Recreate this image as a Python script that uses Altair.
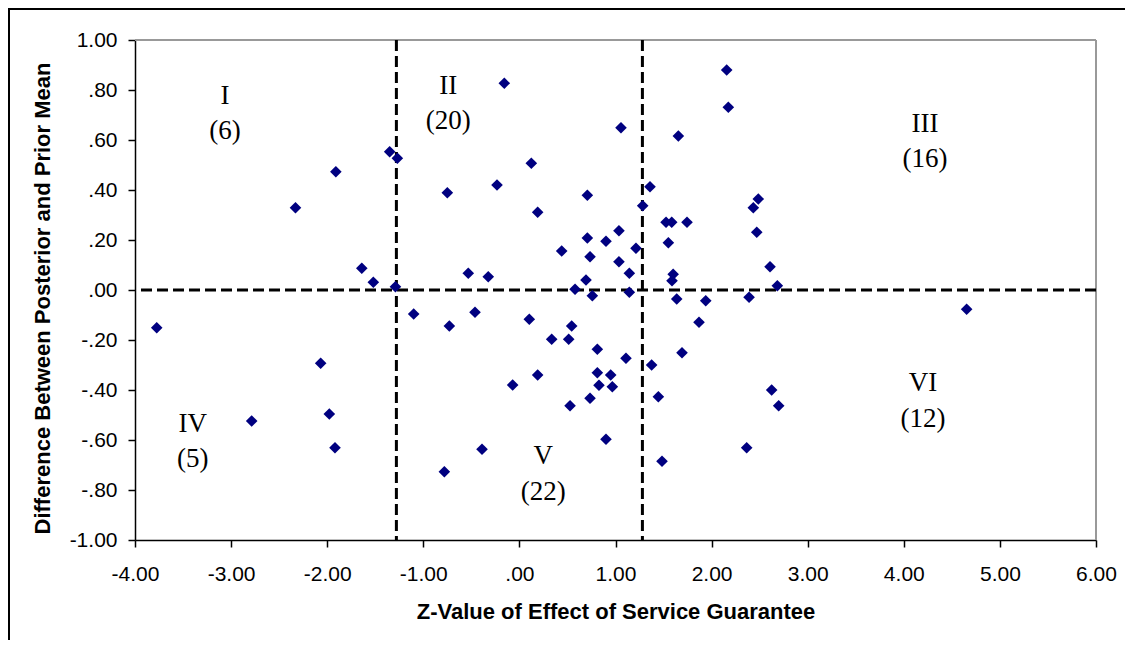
import altair as alt
import pandas as pd

# Z-value of effect of service guarantee (x) and difference between posterior and prior mean (y)
z_value = [
    -2.33, -1.91, -1.35, -1.64, -1.52, -1.29,
    -1.27, -0.75, -0.157, -0.233, 0.124, 0.19, 0.707, 1.057, 0.707, 0.901,
    1.036, 1.213, 0.44, 0.735, 1.036, 1.144, -0.532, -0.324, 0.693, 0.579,
    1.283, 1.359, 1.654, 2.157, 2.174, 2.434, 2.486, 1.526, 1.585, 1.744,
    1.55, 2.47, 2.608, 2.684, 1.60, 1.588,
    -3.774, -2.786, -2.068, -1.978, -1.919,
    -1.10, -0.729, -0.462, 0.103, 0.544, 0.336, 0.513, 0.811, 1.109, 0.19,
    0.811, 0.95, -0.07, 0.828, 0.967, 0.735, 0.527, 0.901, -0.389, -0.781,
    0.759, 1.144,
    1.637, 1.939, 2.39, 1.869, 1.376, 1.692, 1.446, 1.484, 2.365, 4.654,
    2.625, 2.698,
]
diff_mean = [
    0.329, 0.473, 0.553, 0.087, 0.031, 0.013,
    0.527, 0.389, 0.827, 0.42, 0.507, 0.311, 0.379, 0.649, 0.208, 0.195,
    0.237, 0.167, 0.156, 0.133, 0.113, 0.067, 0.067, 0.053, 0.04, 0.003,
    0.337, 0.413, 0.616, 0.88, 0.731, 0.329, 0.364, 0.271, 0.271, 0.271,
    0.189, 0.231, 0.093, 0.017, 0.063, 0.037,
    -0.151, -0.524, -0.293, -0.496, -0.631,
    -0.096, -0.144, -0.089, -0.117, -0.144, -0.197, -0.197, -0.237, -0.273, -0.34,
    -0.331, -0.34, -0.38, -0.381, -0.387, -0.433, -0.463, -0.597, -0.637, -0.727,
    -0.023, -0.009,
    -0.036, -0.043, -0.029, -0.129, -0.30, -0.251, -0.427, -0.685, -0.631, -0.077,
    -0.40, -0.463,
]

# cutoffs
z_cutoffs = [-1.28, 1.28]
y_cutoff = [0.0]

# region labels
region_names = ["I", "II", "III", "IV", "V", "VI"]
region_counts = ["(6)", "(20)", "(16)", "(5)", "(22)", "(12)"]
region_x = [-3.063, -0.740, 4.221, -3.40, 0.249, 4.20]
region_name_y = [0.744, 0.784, 0.633, -0.569, -0.696, -0.403]
region_count_y = [0.604, 0.644, 0.492, -0.708, -0.84, -0.548]

x_ticks = [-4, -3, -2, -1, 0, 1, 2, 3, 4, 5, 6]
y_ticks = [-1.0, -0.8, -0.6, -0.4, -0.2, 0.0, 0.2, 0.4, 0.6, 0.8, 1.0]

W, H = 961, 500

pts = pd.DataFrame({"z": z_value, "d": diff_mean})
vcut = pd.DataFrame({"c": z_cutoffs})
hcut = pd.DataFrame({"c": y_cutoff})
names = pd.DataFrame({"x": region_x, "y": region_name_y, "t": region_names})
counts = pd.DataFrame({"x": region_x, "y": region_count_y, "t": region_counts})

label_expr = (
    "(datum.value < 0 ? '-' : '') + "
    "(abs(datum.value) < 1 ? substring(format(abs(datum.value), '.2f'), 1) : "
    "format(abs(datum.value), '.2f'))"
)

xscale = alt.Scale(domain=[-4, 6], nice=False, zero=False)
yscale = alt.Scale(domain=[-1, 1], nice=False, zero=False)

SANS = "Liberation Sans"
SERIF = "Liberation Serif"

x_axis = alt.Axis(
    values=x_ticks, labelExpr=label_expr, labelFont=SANS, labelFontSize=21,
    labelColor="black", labelPadding=16, labelFlush=False, labelOverlap=False,
    tickColor="black", tickSize=7, tickWidth=1.5, domainColor="black", domainWidth=1.5,
    grid=False, titleFont=SANS, titleFontSize=22, titleFontWeight="bold",
    titleColor="black", titleX=W / 2, titleY=71, titleBaseline="middle",
    titleAlign="center",
)
y_axis = alt.Axis(
    values=y_ticks, labelExpr=label_expr, labelFont=SANS, labelFontSize=21,
    labelColor="black", labelPadding=11, labelFlush=False, labelOverlap=False,
    tickColor="black", tickSize=7, tickWidth=1.5, domainColor="black", domainWidth=1.5,
    grid=False, titleFont=SANS, titleFontSize=22, titleFontWeight="bold",
    titleColor="black", titleX=-93, titleY=258, titleBaseline="middle",
    titleAlign="center", titleAngle=-90,
)

vrules = alt.Chart(vcut).mark_rule(color="black", strokeWidth=3, strokeDash=[11, 5]).encode(
    x=alt.X("c:Q", scale=xscale)
)
hrules = alt.Chart(hcut).mark_rule(color="black", strokeWidth=3, strokeDash=[11, 5]).encode(
    y=alt.Y("c:Q", scale=yscale)
)

points = alt.Chart(pts).mark_point(
    shape="diamond", filled=True, size=135, color="#000080", opacity=1, strokeWidth=0
).encode(
    x=alt.X("z:Q", scale=xscale, axis=x_axis, title="Z-Value of Effect of Service Guarantee"),
    y=alt.Y("d:Q", scale=yscale, axis=y_axis, title="Difference Between Posterior and Prior Mean"),
)

name_text = alt.Chart(names).mark_text(
    font=SERIF, fontSize=27, color="black", align="center", baseline="alphabetic"
).encode(x=alt.X("x:Q", scale=xscale), y=alt.Y("y:Q", scale=yscale), text="t:N")
count_text = alt.Chart(counts).mark_text(
    font=SERIF, fontSize=27, color="black", align="center", baseline="alphabetic"
).encode(x=alt.X("x:Q", scale=xscale), y=alt.Y("y:Q", scale=yscale), text="t:N")

border_top = alt.Chart(pts).mark_rule(color="#999999", strokeWidth=2).encode(
    x=alt.value(0), x2=alt.value(W), y=alt.value(0)
)
border_right = alt.Chart(pts).mark_rule(color="#999999", strokeWidth=2).encode(
    x=alt.value(W), y=alt.value(0), y2=alt.value(H)
)
frame_left = alt.Chart(pts).mark_rule(color="black", strokeWidth=1.5).encode(
    x=alt.value(-126), y=alt.value(-32), y2=alt.value(H + 100)
)
frame_top = alt.Chart(pts).mark_rule(color="black", strokeWidth=1.5).encode(
    x=alt.value(-127), x2=alt.value(W + 29), y=alt.value(-31)
)

chart = alt.layer(
    border_top, border_right, vrules, hrules, name_text, count_text, points,
    frame_left, frame_top,
).properties(
    width=W, height=H,
    autosize=alt.AutoSizeParams(type="none"),
    padding={"left": 127, "top": 32, "right": 29, "bottom": 100},
).configure_view(stroke=None).configure(background="white")

chart.save("out.html", embed_options={"renderer": "svg", "actions": False})
